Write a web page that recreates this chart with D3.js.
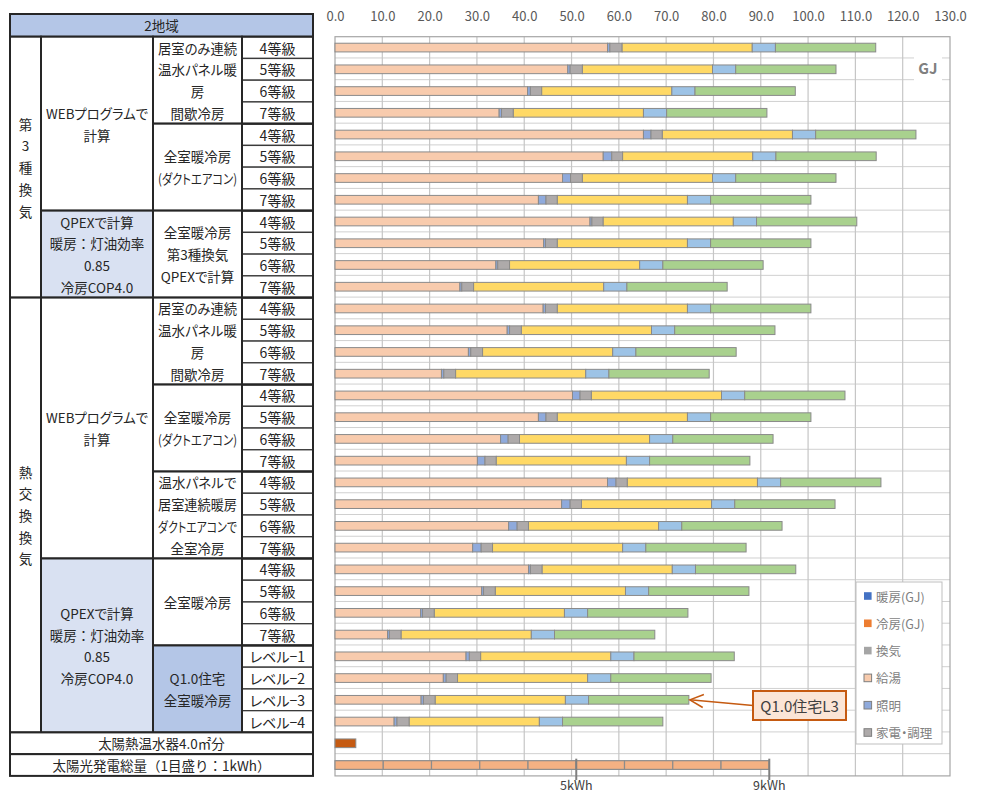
<!DOCTYPE html>
<html>
<head>
<meta charset="utf-8">
<script src="https://cdn.jsdelivr.net/npm/d3@7"></script>
<style>
  html, body { margin: 0; padding: 0; background: #fff; }
  svg { display: block; font-family: "Noto Sans CJK JP", "Noto Sans", sans-serif; }
  text.prop { font-feature-settings: "palt"; }
</style>
</head>
<body>
<svg id="chart" width="982" height="796"></svg>
<script>
// ---- data -------------------------------------------------------------
const rowLabels = [
  "4等級","5等級","6等級","7等級",
  "4等級","5等級","6等級","7等級",
  "4等級","5等級","6等級","7等級",
  "4等級","5等級","6等級","7等級",
  "4等級","5等級","6等級","7等級",
  "4等級","5等級","6等級","7等級",
  "4等級","5等級","6等級","7等級",
  "レベル−1","レベル−2","レベル−3","レベル−4"
];

// annual energy by use (GJ), one value per row above
const heating     = [57.6,49.2,40.7,34.7, 65.2,56.7,48.1,43.0, 53.9,44.1,34.0,26.4,
                     44.0,36.4,28.2,22.5, 50.2,43.0,35.0,30.1, 57.6,47.9,36.7,29.1,
                     40.9,31.0,18.1,11.1, 27.7,22.9,18.2,12.5];
const cooling     = [0.5,0.5,0.6,0.5, 1.6,1.8,1.7,1.6, 0.4,0.4,0.4,0.4,
                     0.5,0.5,0.5,0.5, 1.6,1.6,1.6,1.6, 1.8,1.8,1.8,1.8,
                     0.4,0.4,0.4,0.4, 0.7,0.6,0.5,0.6];
const ventilation = [2.6,2.6,2.4,2.5, 2.4,2.3,2.5,2.4, 2.4,2.5,2.5,2.5,
                     2.5,2.5,2.5,2.5, 2.4,2.4,2.4,2.4, 2.4,2.4,2.4,2.4,
                     2.5,2.5,2.5,2.5, 2.4,2.4,2.5,2.6];
const hotWater    = [27.5,27.5,27.5,27.5, 27.5,27.5,27.5,27.5, 27.5,27.5,27.5,27.5,
                     27.5,27.5,27.5,27.5, 27.5,27.5,27.5,27.5, 27.5,27.5,27.5,27.5,
                     27.5,27.5,27.5,27.5, 27.5,27.5,27.5,27.5];
const lighting    = [4.9,4.9,4.9,4.9, 4.9,4.9,4.9,4.9, 4.9,4.9,4.9,4.9,
                     4.9,4.9,4.9,4.9, 4.9,4.9,4.9,4.9, 4.9,4.9,4.9,4.9,
                     4.9,4.9,4.9,4.9, 4.9,4.9,4.9,4.9];
const appliances  = [21.2,21.2,21.2,21.2, 21.2,21.2,21.2,21.2, 21.2,21.2,21.2,21.2,
                     21.2,21.2,21.2,21.2, 21.2,21.2,21.2,21.2, 21.2,21.2,21.2,21.2,
                     21.2,21.2,21.2,21.2, 21.2,21.2,21.2,21.2];

const seriesKeys   = ["heating","cooling","ventilation","hotWater","lighting","appliances"];
const seriesColors = ["#F8CBAD","#8FAADC","#AEAAAA","#FFD966","#9DC3E6","#A9D18E"];

// solar rows
const solarThermal = 4.4;                                            // GJ
const pvPerKWh     = [10.2,10.2,10.2,10.2,10.2,10.2,10.2,10.2,10.2]; // GJ per 1kWh step
const pvMarks      = [{ step: 5, label: "5kWh" }, { step: 9, label: "9kWh" }];

const xTicks = [0,10,20,30,40,50,60,70,80,90,100,110,120,130];

const legendItems = [
  { label: "暖房(GJ)",   color: "#4472C4", outline: false },
  { label: "冷房(GJ)",   color: "#ED7D31", outline: false },
  { label: "換気",       color: "#A5A5A5", outline: false },
  { label: "給湯",       color: "#F8CBAD", outline: true },
  { label: "照明",       color: "#8FAADC", outline: true },
  { label: "家電・調理", color: "#AEAAAA", outline: true }
];

// table group cells: [firstRow, endRow(exclusive), text lines, fill]
const col1Cells = [
  [0, 12, ["第","3","種","換","気"], "#fff"],
  [12, 32, ["熱","交","換","換","気"], "#fff"]
];
const col2Cells = [
  [0, 8,  ["WEBプログラムで","計算"], "#fff"],
  [8, 12, ["QPEXで計算","暖房：灯油効率","0.85","冷房COP4.0"], "#D9E1F2"],
  [12, 24, ["WEBプログラムで","計算"], "#fff"],
  [24, 32, ["QPEXで計算","暖房：灯油効率","0.85","冷房COP4.0"], "#D9E1F2"]
];
const col3Cells = [
  [0, 4,   ["居室のみ連続","温水パネル暖","房","間歇冷房"], "#fff"],
  [4, 8,   ["全室暖冷房","(ダクトエアコン)"], "#fff"],
  [8, 12,  ["全室暖冷房","第3種換気","QPEXで計算"], "#fff"],
  [12, 16, ["居室のみ連続","温水パネル暖","房","間歇冷房"], "#fff"],
  [16, 20, ["全室暖冷房","(ダクトエアコン)"], "#fff"],
  [20, 24, ["温水パネルで","居室連続暖房","ダクトエアコンで","全室冷房"], "#fff"],
  [24, 28, ["全室暖冷房"], "#fff"],
  [28, 32, ["Q1.0住宅","全室暖冷房"], "#B4C6E7"]
];
const fullRows = [
  [32, "太陽熱温水器4.0㎡分"],
  [33, "太陽光発電総量（1目盛り：1kWh）"]
];

// ---- layout ----------------------------------------------------------
const svg = d3.select("#chart");
const textColor = "#262626";
const colX = [10, 41, 153, 242, 313];
const plot = { left: 335, right: 950, top: 36.7, bottom: 775.9 };

const y = d3.scaleBand().domain(d3.range(34)).range([plot.top, plot.bottom]);
const x = d3.scaleLinear().domain([0, 130]).range([plot.left, plot.right]);
const rowH = y.bandwidth();
const barH = rowH * 0.4;

// full-width punctuation keeps its width; other text uses proportional kana
const hasWidePunct = t => /[：（）]/.test(t);

// shrink a text horizontally when it is wider than its cell
function fit(sel, maxW) {
  sel.each(function () {
    const w = this.getComputedTextLength();
    if (w > maxW) d3.select(this).attr("textLength", maxW).attr("lengthAdjust", "spacingAndGlyphs");
  });
}

// ---- left table ------------------------------------------------------
const table = svg.append("g");

table.append("rect")
  .attr("x", colX[0]).attr("y", 14).attr("width", colX[4] - colX[0]).attr("height", plot.top - 14)
  .attr("fill", "#B4C6E7").attr("stroke", "#262626").attr("stroke-width", 2);
table.append("text")
  .attr("class", "prop")
  .attr("x", (colX[0] + colX[4]) / 2).attr("y", (14 + plot.top) / 2)
  .attr("text-anchor", "middle").attr("dominant-baseline", "central")
  .attr("font-size", 13.5).attr("fill", textColor).text("2地域");

function drawCells(cells, x0, x1, fontSize) {
  const g = table.append("g");
  cells.forEach(([r0, r1, lines, fill]) => {
    const top = y(r0), bot = y(r1 - 1) + rowH;
    g.append("rect")
      .attr("x", x0).attr("y", top).attr("width", x1 - x0).attr("height", bot - top)
      .attr("fill", fill).attr("stroke", "#262626").attr("stroke-width", 2);
    const cy = (top + bot) / 2;
    lines.forEach((t, k) => {
      g.append("text")
        .attr("class", hasWidePunct(t) ? null : "prop")
        .attr("x", (x0 + x1) / 2)
        .attr("y", cy + (k - (lines.length - 1) / 2) * rowH)
        .attr("text-anchor", "middle").attr("dominant-baseline", "central")
        .attr("font-size", fontSize).attr("fill", textColor).text(t)
        .call(fit, x1 - x0 - 10);
    });
  });
}
drawCells(col1Cells, colX[0], colX[1], 13.5);
drawCells(col2Cells, colX[1], colX[2], 13.5);
drawCells(col3Cells, colX[2], colX[3], 13.5);

// grade / level cells
table.append("g").selectAll("g")
  .data(rowLabels)
  .join("g")
  .each(function (d, i) {
    const g = d3.select(this);
    g.append("rect")
      .attr("x", colX[3]).attr("y", y(i)).attr("width", colX[4] - colX[3]).attr("height", rowH)
      .attr("fill", "#fff").attr("stroke", "#3a3a3a").attr("stroke-width", 1.3);
    g.append("text")
      .attr("class", "prop")
      .attr("x", (colX[3] + colX[4]) / 2).attr("y", y(i) + rowH / 2)
      .attr("text-anchor", "middle").attr("dominant-baseline", "central")
      .attr("font-size", 14).attr("fill", textColor).text(d);
  });

// group outlines in the grade column
[0, 4, 8, 12, 16, 20, 24, 28].forEach(r0 => {
  table.append("rect")
    .attr("x", colX[3]).attr("y", y(r0)).attr("width", colX[4] - colX[3]).attr("height", rowH * 4)
    .attr("fill", "none").attr("stroke", "#262626").attr("stroke-width", 2);
});

fullRows.forEach(([r, t]) => {
  table.append("rect")
    .attr("x", colX[0]).attr("y", y(r)).attr("width", colX[4] - colX[0]).attr("height", rowH)
    .attr("fill", "#fff").attr("stroke", "#262626").attr("stroke-width", 2);
  table.append("text")
    .attr("class", hasWidePunct(t) ? null : "prop")
    .attr("x", (colX[0] + colX[4]) / 2).attr("y", y(r) + rowH / 2)
    .attr("text-anchor", "middle").attr("dominant-baseline", "central")
    .attr("font-size", 13.5).attr("fill", textColor).text(t)
    .call(fit, colX[4] - colX[0] - 20);
});

// ---- chart grid ------------------------------------------------------
const grid = svg.append("g");
grid.selectAll("line.h")
  .data(d3.range(1, 34))
  .join("line")
  .attr("x1", plot.left).attr("x2", plot.right)
  .attr("y1", d => y(d) - 0.5).attr("y2", d => y(d) - 0.5)
  .attr("stroke", "#D0D0D0").attr("stroke-width", 1);
grid.selectAll("line.v")
  .data(xTicks.slice(1, -1))
  .join("line")
  .attr("x1", d => x(d)).attr("x2", d => x(d))
  .attr("y1", plot.top).attr("y2", plot.bottom)
  .attr("stroke", "#C6C6C6").attr("stroke-width", 1.2);
grid.append("rect")
  .attr("x", plot.left).attr("y", plot.top)
  .attr("width", plot.right - plot.left).attr("height", plot.bottom - plot.top)
  .attr("fill", "none").attr("stroke", "#A6A6A6").attr("stroke-width", 1.2);

// top value axis
const axis = svg.append("g")
  .attr("transform", `translate(0,21)`)
  .call(d3.axisTop(x).tickValues(xTicks).tickFormat(d => d.toFixed(1)).tickSize(0).tickPadding(0));
axis.select(".domain").remove();
axis.selectAll("text")
  .attr("font-family", "\"Noto Sans CJK JP\", sans-serif")
  .attr("font-size", 13).attr("fill", "#595959");

// ---- stacked bars ------------------------------------------------------
const rows = rowLabels.map((label, i) => ({
  index: i,
  heating: heating[i], cooling: cooling[i], ventilation: ventilation[i],
  hotWater: hotWater[i], lighting: lighting[i], appliances: appliances[i]
}));
const stacked = d3.stack().keys(seriesKeys)(rows);

svg.append("g").selectAll("g")
  .data(stacked)
  .join("g")
  .attr("fill", (d, i) => seriesColors[i])
  .selectAll("rect")
  .data(d => d)
  .join("rect")
  .attr("x", d => x(d[0]))
  .attr("width", d => x(d[1]) - x(d[0]))
  .attr("y", d => y(d.data.index) + (rowH - barH) / 2)
  .attr("height", barH)
  .attr("stroke", "#8A8A8A").attr("stroke-width", 1);

// solar thermal bar
svg.append("rect")
  .attr("x", x(0)).attr("width", x(solarThermal) - x(0))
  .attr("y", y(32) + (rowH - barH) / 2).attr("height", barH)
  .attr("fill", "#C55A11").attr("stroke", "#8A8A8A").attr("stroke-width", 1);

// photovoltaic bar, one block per kWh
const pvStack = d3.cumsum(pvPerKWh);
const pvBlocks = pvPerKWh.map((v, i) => ({ x0: i ? pvStack[i - 1] : 0, x1: pvStack[i] }));
const pvY = y(33) + (rowH - barH) / 2;
svg.append("g").selectAll("rect")
  .data(pvBlocks)
  .join("rect")
  .attr("x", d => x(d.x0)).attr("width", d => x(d.x1) - x(d.x0))
  .attr("y", pvY).attr("height", barH)
  .attr("fill", "#F4B183").attr("stroke", "#8C8C8C").attr("stroke-width", 1.2);

const marks = svg.append("g");
pvMarks.forEach(m => {
  const px = x(pvStack[m.step - 1]);
  marks.append("line")
    .attr("x1", px).attr("x2", px)
    .attr("y1", pvY - 2).attr("y2", 780)
    .attr("stroke", "#7F7F7F").attr("stroke-width", 2);
  marks.append("text")
    .attr("x", px).attr("y", 790)
    .attr("text-anchor", "middle")
    .attr("font-size", 12.5).attr("fill", "#404040").text(m.label);
});

// ---- unit label ------------------------------------------------------
svg.append("rect").attr("x", 914).attr("y", 54).attr("width", 28).attr("height", 29).attr("fill", "#fff");
svg.append("text")
  .attr("x", 928).attr("y", 67).attr("text-anchor", "middle").attr("dominant-baseline", "central")
  .attr("font-size", 15).attr("font-weight", 700).attr("fill", "#808080").text("GJ");

// ---- legend ----------------------------------------------------------
const legend = svg.append("g");
legend.append("rect")
  .attr("x", 856).attr("y", 582).attr("width", 86).attr("height", 162)
  .attr("fill", "#fff").attr("stroke", "#BFBFBF").attr("stroke-width", 1);
legendItems.forEach((it, i) => {
  const cy = 596 + i * 27.3;
  legend.append("rect")
    .attr("x", 864).attr("y", cy - 3.8).attr("width", 7.6).attr("height", 7.6)
    .attr("fill", it.color)
    .attr("stroke", it.outline ? "#7F7F7F" : "none").attr("stroke-width", 1);
  legend.append("text")
    .attr("class", "prop")
    .attr("x", 876).attr("y", cy).attr("dominant-baseline", "central")
    .attr("font-size", 12.5).attr("fill", "#7F7F7F").text(it.label);
});

// ---- callout for Q1.0 level-3 ------------------------------------------
const target = rows[30];
const tipX = x(seriesKeys.reduce((s, k) => s + target[k], 0)) + 1;
const tipY = y(30) + rowH / 2;
const box = { x: 753, y: 691, w: 93, h: 29 };
const callout = svg.append("g");
callout.append("line")
  .attr("x1", box.x).attr("y1", box.y + box.h / 2).attr("x2", tipX).attr("y2", tipY)
  .attr("stroke", "#C55A11").attr("stroke-width", 1.5);
const ang = Math.atan2(box.y + box.h / 2 - tipY, box.x - tipX);
const al = 15, aw = 0.45;
callout.append("path")
  .attr("d", `M${tipX + al * Math.cos(ang - aw)},${tipY + al * Math.sin(ang - aw)} L${tipX},${tipY} L${tipX + al * Math.cos(ang + aw)},${tipY + al * Math.sin(ang + aw)}`)
  .attr("fill", "none").attr("stroke", "#C55A11").attr("stroke-width", 1.5);
callout.append("rect")
  .attr("x", box.x).attr("y", box.y).attr("width", box.w).attr("height", box.h)
  .attr("fill", "#FBE5D6").attr("stroke", "#C55A11").attr("stroke-width", 2);
callout.append("text")
  .attr("class", "prop")
  .attr("x", box.x + box.w / 2).attr("y", box.y + box.h / 2)
  .attr("text-anchor", "middle").attr("dominant-baseline", "central")
  .attr("font-size", 15).attr("fill", "#404040").text("Q1.0住宅L3");
</script>
</body>
</html>
